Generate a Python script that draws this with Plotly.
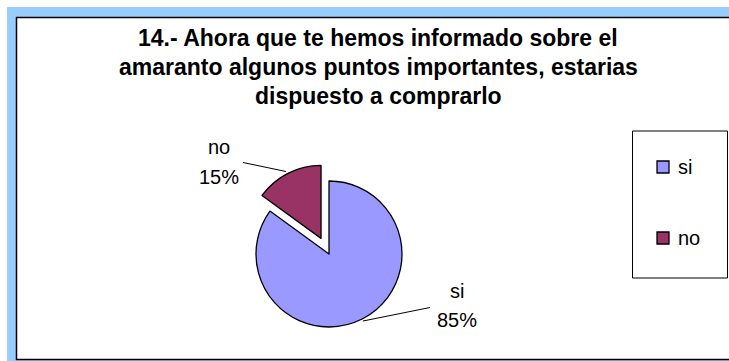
import plotly.graph_objects as go

# Survey answers (percent of respondents)
labels = ["si", "no"]
values = [85, 15]
colors = ["#9999FF", "#993366"]
pulls = [0, 0.24]

title_lines = [
    "14.- Ahora que te hemos informado sobre el",
    "amaranto algunos puntos importantes, estarias",
    "dispuesto a comprarlo",
]

W, H = 729, 361
FONT = "Liberation Sans, Arial, sans-serif"


def px(x):
    return x / W


def py(y):
    return 1 - y / H


total = sum(values)
pct = [f"{round(v * 100 / total)}%" for v in values]

# pie box sized so the pulled-out slice still fits (r = box / (2 + 2*maxPull))
cx, cy, r = 329, 254, 73
half = r * (1 + max(pulls))

fig = go.Figure(
    go.Pie(
        labels=labels,
        values=values,
        marker=dict(colors=colors, line=dict(color="black", width=1.3)),
        pull=pulls,
        sort=False,
        direction="clockwise",
        rotation=0,
        textinfo="none",
        hoverinfo="label+percent",
        showlegend=False,
        domain=dict(x=[px(cx - half), px(cx + half)], y=[py(cy + half), py(cy - half)]),
    )
)

shapes = [
    # selection band and chart-area frame
    dict(type="rect", xref="paper", yref="paper", x0=px(7), x1=px(740), y0=py(361), y1=py(7),
         fillcolor="#99CCFF", line=dict(width=0), layer="below"),
    dict(type="rect", xref="paper", yref="paper", x0=px(16.5), x1=px(745), y0=py(359.5), y1=py(17.5),
         fillcolor="white", line=dict(color="black", width=1.5), layer="below"),
    # legend box
    dict(type="rect", xref="paper", yref="paper", x0=px(632.5), x1=px(727.5), y0=py(278), y1=py(131),
         fillcolor="white", line=dict(color="black", width=1)),
    # leader lines
    dict(type="line", xref="paper", yref="paper", x0=px(243), y0=py(162.5), x1=px(286), y1=py(171.5),
         line=dict(color="black", width=1)),
    dict(type="line", xref="paper", yref="paper", x0=px(430), y0=py(307.5), x1=px(363), y1=py(321),
         line=dict(color="black", width=1)),
]

# legend swatches
legend_y = [167, 238]
for c, ly in zip(colors, legend_y):
    shapes.append(dict(type="rect", xref="paper", yref="paper", x0=px(657), x1=px(669),
                       y0=py(ly + 6), y1=py(ly - 6), fillcolor=c, line=dict(color="black", width=1.3)))

annotations = []

# chart title, one annotation per line
for i, line in enumerate(title_lines):
    annotations.append(dict(text=f"<b>{line}</b>", xref="paper", yref="paper", x=px(378),
                            y=py(37.5 + 29 * i), xanchor="center", yanchor="middle",
                            showarrow=False,
                            font=dict(family=FONT, size=23, color="black")))

for lab, ly in zip(labels, legend_y):
    annotations.append(dict(text=lab, xref="paper", yref="paper", x=px(676), y=py(ly),
                            xanchor="left", yanchor="middle", showarrow=False,
                            font=dict(family=FONT, size=20, color="black")))

# slice labels: name on one line, share below
label_pos = {"no": (219, 146.5, 176.5), "si": (457, 290.5, 320)}
for lab, p in zip(labels, pct):
    x, y1, y2 = label_pos[lab]
    annotations.append(dict(text=lab, xref="paper", yref="paper", x=px(x), y=py(y1),
                            xanchor="center", yanchor="middle", showarrow=False,
                            font=dict(family=FONT, size=20, color="black")))
    annotations.append(dict(text=p, xref="paper", yref="paper", x=px(x), y=py(y2),
                            xanchor="center", yanchor="middle", showarrow=False,
                            font=dict(family=FONT, size=20, color="black")))

fig.update_layout(
    width=W,
    height=H,
    margin=dict(l=0, r=0, t=0, b=0),
    paper_bgcolor="white",
    plot_bgcolor="white",
    shapes=shapes,
    annotations=annotations,
    showlegend=False,
)

fig.write_html("out.html")
